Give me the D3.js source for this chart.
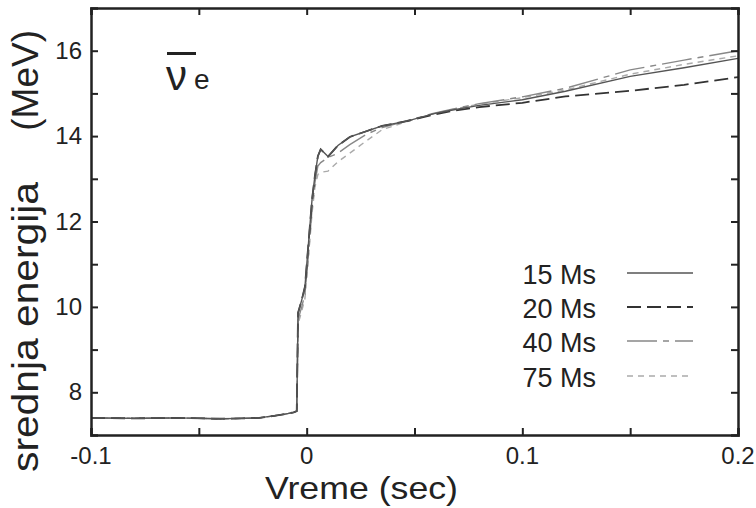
<!DOCTYPE html>
<html>
<head>
<meta charset="utf-8">
<script src="https://cdn.jsdelivr.net/npm/d3@7"></script>
<style>
  body { margin: 0; background: #fff; }
  text { font-family: "Liberation Sans", Arial, sans-serif; fill: #222; }
</style>
</head>
<body>
<div class="container"></div>
<script>
const width = 756;
const height = 508;

// time (sec), shared by all runs
const time = [-0.1, -0.08, -0.06, -0.04, -0.03, -0.022, -0.015, -0.01, -0.006, -0.0046, -0.0044,
  -0.004, -0.0023, -0.0008, 0.0006, 0.0025, 0.0038, 0.0052, 0.0065, 0.0099, 0.0145, 0.020,
  0.028, 0.035, 0.0465, 0.0586, 0.0664, 0.08, 0.1, 0.12, 0.15, 0.175, 0.2];

const run15 = [7.40, 7.39, 7.40, 7.38, 7.39, 7.40, 7.45, 7.49, 7.53, 7.56, 8.3,
  9.86, 10.16, 10.47, 11.34, 12.52, 13.06, 13.53, 13.69, 13.52, 13.78, 13.98,
  14.12, 14.24, 14.35, 14.52, 14.6, 14.72, 14.85, 15.05, 15.4, 15.6, 15.82];
const run20 = [7.40, 7.39, 7.40, 7.38, 7.39, 7.40, 7.45, 7.49, 7.53, 7.56, 8.3,
  9.86, 10.16, 10.47, 11.34, 12.52, 13.06, 13.53, 13.69, 13.52, 13.78, 13.98,
  14.12, 14.24, 14.35, 14.5, 14.58, 14.68, 14.78, 14.93, 15.06, 15.2, 15.38];
const run40 = [7.40, 7.39, 7.40, 7.38, 7.39, 7.40, 7.45, 7.49, 7.53, 7.56, 8.2,
  9.7, 10.0, 10.3, 11.1, 12.3, 12.9, 13.3, 13.38, 13.5, 13.6, 13.8,
  14.05, 14.2, 14.36, 14.53, 14.62, 14.76, 14.92, 15.12, 15.55, 15.78, 16.0];
const run75 = [7.40, 7.39, 7.40, 7.38, 7.39, 7.40, 7.45, 7.49, 7.53, 7.56, 8.1,
  9.6, 9.9, 10.2, 11.0, 12.2, 12.8, 13.1, 13.15, 13.18, 13.4, 13.6,
  13.9, 14.15, 14.34, 14.52, 14.61, 14.75, 14.9, 15.08, 15.45, 15.68, 15.88];

const labels = ["15 Ms", "20 Ms", "40 Ms", "75 Ms"];
const xTicks = [-0.1, 0, 0.1, 0.2];
const xMinor = [-0.05, 0.05, 0.15];
const yTicks = [8, 10, 12, 14, 16];
const yMinor = [9, 11, 13, 15];

const styles = [
  { color: "#555", w: 1.4, dash: null },
  { color: "#333", w: 1.8, dash: "14,6" },
  { color: "#888", w: 1.4, dash: "30,6,6,6" },
  { color: "#aaa", w: 1.4, dash: "6,5" }
];

const margin = { left: 91, right: 18, top: 8, bottom: 73 };
const x = d3.scaleLinear().domain([-0.1, 0.2]).range([margin.left, width - margin.right]);
const y = d3.scaleLinear().domain([7, 17]).range([height - margin.bottom, margin.top]);

const svg = d3.select(".container").append("svg")
    .attr("width", width).attr("height", height);

const series = [run15, run20, run40, run75].map((vals, i) => ({
  name: labels[i], style: styles[i], values: time.map((t, j) => [t, vals[j]])
}));

const line = d3.line().x(d => x(d[0])).y(d => y(d[1]));

// draw lightest first so dark curves sit on top
svg.append("g")
  .selectAll("path")
  .data(series.slice().reverse())
  .join("path")
    .attr("d", d => line(d.values))
    .attr("fill", "none")
    .attr("stroke", d => d.style.color)
    .attr("stroke-width", d => d.style.w)
    .attr("stroke-dasharray", d => d.style.dash);

// axes, ticks inward on all four sides
const tickLen = 7;
const allX = xTicks.concat(xMinor);
const allY = yTicks.concat(yMinor);

svg.append("g").attr("transform", `translate(0,${y(7)})`)
  .call(d3.axisBottom(x).tickValues(allX).tickSize(-tickLen).tickFormat(""));
svg.append("g").attr("transform", `translate(0,${y(17)})`)
  .call(d3.axisTop(x).tickValues(allX).tickSize(-tickLen).tickFormat(""));
svg.append("g").attr("transform", `translate(${x(-0.1)},0)`)
  .call(d3.axisLeft(y).tickValues(allY).tickSize(-tickLen).tickFormat(""));
svg.append("g").attr("transform", `translate(${x(0.2)},0)`)
  .call(d3.axisRight(y).tickValues(allY).tickSize(-tickLen).tickFormat(""));

svg.selectAll(".domain").attr("stroke", "#222").attr("stroke-width", 2.5);
svg.selectAll(".tick line").attr("stroke", "#222").attr("stroke-width", 2);

// tick labels (plain hyphen minus, as in the original)
svg.append("g").selectAll("text")
  .data(xTicks)
  .join("text")
    .attr("x", d => x(d))
    .attr("y", y(7) + 29)
    .attr("text-anchor", "middle")
    .style("font-size", "24px")
    .text(d => String(d));

svg.append("g").selectAll("text")
  .data(yTicks)
  .join("text")
    .attr("x", x(-0.1) - 9)
    .attr("y", d => y(d) + 8)
    .attr("text-anchor", "end")
    .style("font-size", "24px")
    .text(d => d);

// axis titles
svg.append("text")
  .attr("x", 265).attr("y", 499)
  .attr("textLength", 193)
  .attr("lengthAdjust", "spacingAndGlyphs")
  .style("font-size", "32px")
  .text("Vreme (sec)");

svg.append("text")
  .attr("transform", "translate(38,472) rotate(-90)")
  .attr("textLength", 290)
  .attr("lengthAdjust", "spacingAndGlyphs")
  .style("font-size", "37px")
  .text("srednja energija");
svg.append("text")
  .attr("transform", "translate(38,30) rotate(-90)")
  .attr("text-anchor", "end")
  .style("font-size", "37px")
  .text("(MeV)");

// anti-neutrino label
svg.append("line")
  .attr("x1", 167).attr("x2", 196).attr("y1", 53.5).attr("y2", 53.5)
  .attr("stroke", "#222").attr("stroke-width", 3);
svg.append("text")
  .attr("x", 166).attr("y", 90)
  .style("font-size", "42px")
  .text("ν");
svg.append("text")
  .attr("x", 194).attr("y", 89)
  .style("font-size", "28px")
  .text("e");

// legend
const rowY = [273, 307, 341, 376];
const legend = svg.append("g").selectAll("g")
  .data(series)
  .join("g")
    .attr("transform", (d, i) => `translate(0,${rowY[i]})`);

legend.append("text")
  .attr("x", 596).attr("y", 11)
  .attr("text-anchor", "end")
  .style("font-size", "27px")
  .text(d => d.name);

legend.append("line")
  .attr("x1", 627).attr("x2", 693)
  .attr("stroke", d => d.style.color)
  .attr("stroke-width", d => d.style.w)
  .attr("stroke-dasharray", d => d.style.dash);
</script>
</body>
</html>
